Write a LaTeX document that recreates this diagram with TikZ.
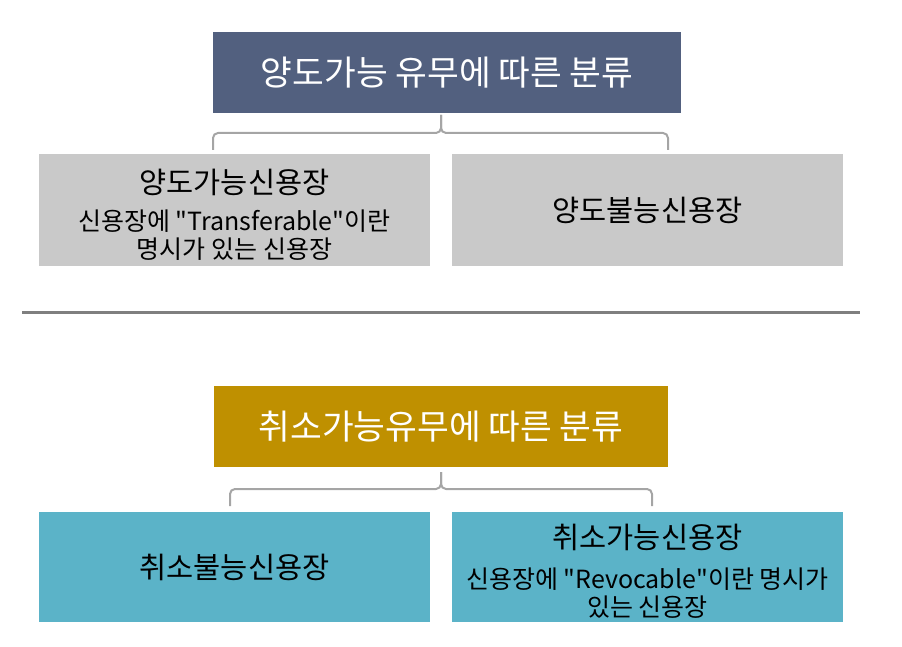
\documentclass[tikz,border=0pt]{standalone}
\usepackage{fontspec}
\newfontfamily\krfont{Noto Sans CJK KR}
\usetikzlibrary{positioning}
\definecolor{slate}{HTML}{52607F}
\definecolor{gold}{HTML}{BF9000}
\definecolor{boxgray}{HTML}{C9C9C9}
\definecolor{teal}{HTML}{5BB3C8}
\definecolor{bracegray}{HTML}{A5A5A5}
\definecolor{rulegray}{HTML}{7F7F7F}
\tikzset{every node/.style={font=\krfont},line cap=round,line join=round}

\begin{document}
\begin{tikzpicture}[x=1pt,y=1pt,
    titlebox/.style={minimum width=#1,minimum height=81pt,inner sep=0pt,
      text=white,font=\krfont\fontsize{34.5}{40}\selectfont},
    itembox/.style={minimum width=391pt,minimum height=#1,inner sep=0pt,
      align=center},
    head/.style={font=\krfont\fontsize{29.5}{34}\selectfont},
    body/.style={font=\krfont\fontsize{25}{28}\selectfont,align=center},
    bracket/.style={draw=bracegray,line width=2pt,rounded corners=5pt}]
  \path[use as bounding box] (0,0) rectangle (902,646);
  % first classification: transferable or not
  \node[titlebox=468pt,fill=slate] (trtitle) at (447,573.5) {양도가능 유무에 따른 분류};
  \node[itembox=112pt,fill=boxgray] (tryes) at (234.5,436) {};
  \node[head] (tryeshead) at (234.5,464) {양도가능신용장};
  \node[body] (tryesbody) at (234.5,411) {신용장에 "Transferable"이란\\명시가 있는 신용장};
  \node[itembox=112pt,fill=boxgray,head] (trno) at (647.5,436) {양도불능신용장};
  \coordinate (trtip) at (441,531);
  \coordinate (trmid) at (441,513);
  \coordinate (trleft) at (213,496);
  \coordinate (trright) at (668,496);
  \draw[bracket] (trleft) |- (trmid) -- (trtip);
  \draw[bracket] (trright) |- (trmid) -- (trtip);

  \coordinate (ruleleft) at (22,333);
  \coordinate (ruleright) at (860,333);
  \draw[rulegray,line width=3pt,line cap=butt] (ruleleft) -- (ruleright);

  % second classification: revocable or not
  \node[titlebox=454pt,fill=gold] (rvtitle) at (441,219.5) {취소가능유무에 따른 분류};
  \node[itembox=110pt,fill=teal,head] (rvno) at (234.5,79) {취소불능신용장};
  \node[itembox=110pt,fill=teal] (rvyes) at (647.5,79) {};
  \node[head] (rvyeshead) at (647.5,109) {취소가능신용장};
  \node[body] (rvyesbody) at (647.5,53) {신용장에 "Revocable"이란 명시가\\있는 신용장};
  \coordinate (rvtip) at (441,174);
  \coordinate (rvmid) at (441,157);
  \coordinate (rvleft) at (230,140);
  \coordinate (rvright) at (652,140);
  \draw[bracket] (rvleft) |- (rvmid) -- (rvtip);
  \draw[bracket] (rvright) |- (rvmid) -- (rvtip);
\end{tikzpicture}
\end{document}
